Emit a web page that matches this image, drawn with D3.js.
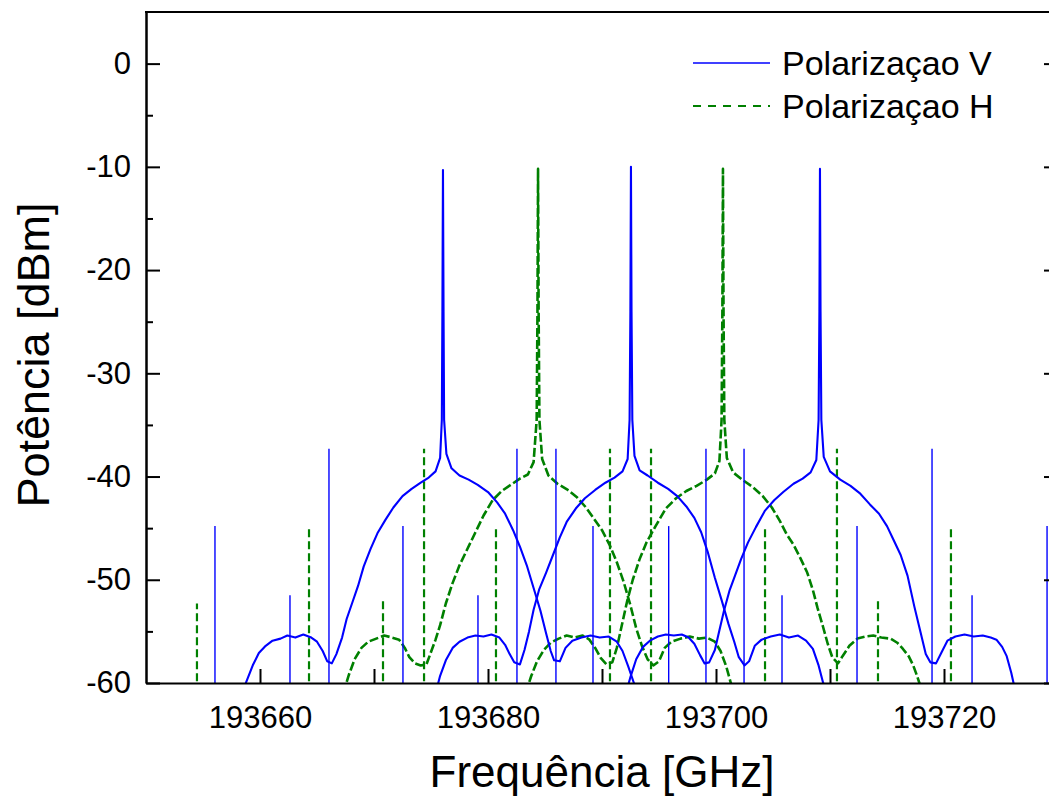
<!DOCTYPE html>
<html>
<head>
<meta charset="utf-8">
<script src="https://cdn.jsdelivr.net/npm/d3@7"></script>
<style>
body { margin: 0; background: #fff; }
text { font-family: "Liberation Sans", Arial, sans-serif; fill: #000; }
</style>
</head>
<body>
<script>
// polarizacao V: three channel sweeps
var traceV1 = [[193658.4,-61.0],[193658.9,-59.6],[193659.4,-58.2],[193659.9,-57.1],[193660.5,-56.4],[193661.1,-55.9],[193661.8,-55.7],[193662.4,-55.4],[193663.1,-55.6],[193663.8,-55.3],[193664.5,-55.6],[193665.0,-56.0],[193665.5,-56.9],[193665.9,-57.9],[193666.3,-58.1],[193666.7,-57.2],[193667.2,-55.6],[193667.6,-53.8],[193668.1,-52.2],[193668.6,-50.6],[193669.1,-48.7],[193669.7,-47.0],[193670.3,-45.5],[193671.0,-44.2],[193671.7,-43.0],[193672.5,-41.9],[193673.3,-41.2],[193674.1,-40.6],[193674.8,-40.1],[193675.4,-39.5],[193675.8,-38.2],[193675.95,-34.5],[193676.0,-24],[193676.05,-10.3],[193676.1,-24],[193676.15,-34.5],[193676.35,-37.8],[193676.8,-39.2],[193677.5,-39.9],[193678.3,-40.3],[193679.1,-40.8],[193680.0,-41.5],[193680.8,-42.5],[193681.5,-43.6],[193682.2,-45.2],[193682.8,-46.8],[193683.4,-48.6],[193684.0,-50.8],[193684.6,-53.0],[193685.1,-55.2],[193685.5,-56.9],[193685.8,-57.8],[193686.3,-57.9],[193686.8,-56.6],[193687.4,-55.9],[193688.2,-55.6],[193689.0,-55.4],[193689.8,-55.6],[193690.6,-55.5],[193691.3,-56.0],[193691.8,-56.9],[193692.3,-58.4],[193692.8,-60.0],[193693.1,-61.0]];
var traceV2 = [[193675.4,-61.0],[193675.8,-59.3],[193676.3,-57.8],[193676.9,-56.6],[193677.5,-56.0],[193678.2,-55.6],[193678.9,-55.4],[193679.6,-55.5],[193680.3,-55.3],[193681.0,-55.6],[193681.5,-56.3],[193681.9,-57.2],[193682.3,-58.0],[193682.8,-58.2],[193683.2,-56.8],[193683.6,-55.0],[193684.0,-52.9],[193684.5,-50.9],[193685.1,-49.3],[193685.7,-47.6],[193686.3,-45.9],[193686.9,-44.4],[193687.7,-43.1],[193688.5,-42.1],[193689.4,-41.3],[193690.3,-40.6],[193691.1,-40.1],[193691.8,-39.5],[193692.25,-38.3],[193692.42,-34.5],[193692.49,-24],[193692.54,-10.0],[193692.59,-24],[193692.66,-34.5],[193692.85,-38.0],[193693.3,-39.4],[193694.0,-39.9],[193694.9,-40.6],[193695.8,-41.2],[193696.6,-41.9],[193697.4,-42.9],[193698.1,-44.0],[193698.7,-45.4],[193699.3,-47.4],[193699.9,-49.8],[193700.5,-52.0],[193701.1,-54.3],[193701.6,-56.0],[193702.0,-57.5],[193702.5,-58.3],[193702.9,-57.9],[193703.4,-56.4],[193704.0,-55.8],[193704.8,-55.5],[193705.6,-55.3],[193706.4,-55.6],[193707.2,-55.4],[193707.9,-55.9],[193708.5,-56.7],[193709.0,-58.3],[193709.4,-60.0],[193709.8,-61.0]];
var traceV3 = [[193692.1,-61.0],[193692.5,-59.4],[193693.0,-57.7],[193693.6,-56.5],[193694.2,-55.9],[193694.9,-55.5],[193695.6,-55.3],[193696.3,-55.4],[193697.0,-55.3],[193697.6,-55.6],[193698.1,-56.2],[193698.6,-57.3],[193699.0,-58.1],[193699.4,-58.0],[193699.9,-56.8],[193700.3,-54.9],[193700.7,-53.0],[193701.2,-51.0],[193701.7,-49.5],[193702.2,-48.0],[193702.8,-46.4],[193703.5,-44.9],[193704.3,-43.3],[193705.1,-42.3],[193705.9,-41.5],[193706.8,-40.7],[193707.6,-40.2],[193708.3,-39.6],[193708.8,-38.4],[193709.0,-34.5],[193709.07,-24],[193709.12,-10.2],[193709.17,-24],[193709.24,-34.5],[193709.45,-38.1],[193710.0,-39.5],[193710.9,-40.3],[193711.8,-40.9],[193712.6,-41.6],[193713.5,-42.7],[193714.3,-43.6],[193715.0,-44.8],[193715.6,-46.2],[193716.2,-47.6],[193716.8,-49.6],[193717.4,-52.6],[193717.9,-54.9],[193718.4,-57.2],[193718.8,-58.0],[193719.3,-58.1],[193719.8,-57.0],[193720.3,-55.9],[193721.0,-55.5],[193721.8,-55.3],[193722.6,-55.5],[193723.4,-55.4],[193724.1,-55.6],[193724.6,-55.8],[193725.1,-56.5],[193725.5,-57.4],[193725.9,-59.0],[193726.3,-61.0]];
var spikesV = [[193656.05,-44.8],[193662.63,-51.5],[193666.05,-37.3],[193672.54,-44.8],[193679.12,-51.5],[193682.54,-37.3],[193685.96,-37.3],[193689.21,-44.8],[193695.85,-44.8],[193699.12,-37.3],[193702.46,-37.3],[193705.79,-51.5],[193712.37,-44.8],[193718.95,-37.3],[193722.46,-51.5],[193729.04,-44.8]];

// polarizacao H: two channel sweeps
var traceH1 = [[193667.3,-61.0],[193667.8,-59.2],[193668.3,-57.7],[193668.9,-56.6],[193669.5,-56.0],[193670.2,-55.7],[193670.9,-55.4],[193671.6,-55.6],[193672.2,-55.8],[193672.7,-56.6],[193673.1,-57.5],[193673.6,-58.1],[193674.1,-58.3],[193674.6,-58.2],[193675.0,-57.0],[193675.4,-55.8],[193675.8,-54.4],[193676.3,-52.3],[193676.9,-50.3],[193677.5,-48.6],[193678.2,-47.0],[193678.9,-45.4],[193679.6,-43.8],[193680.4,-42.3],[193681.2,-41.4],[193682.0,-40.8],[193682.8,-40.2],[193683.5,-39.8],[193684.0,-38.6],[193684.27,-34.5],[193684.34,-24],[193684.39,-10.2],[193684.44,-24],[193684.51,-34.5],[193684.75,-38.3],[193685.3,-39.9],[193686.1,-40.7],[193687.0,-41.3],[193687.8,-42.0],[193688.6,-43.0],[193689.3,-44.1],[193690.0,-45.2],[193690.7,-46.7],[193691.3,-48.3],[193691.9,-50.2],[193692.5,-52.5],[193693.0,-54.7],[193693.5,-56.4],[193694.0,-57.7],[193694.5,-58.3],[193695.0,-57.9],[193695.5,-56.6],[193696.1,-56.0],[193696.9,-55.7],[193697.7,-55.5],[193698.5,-55.7],[193699.2,-55.6],[193699.9,-56.0],[193700.4,-56.9],[193700.9,-58.4],[193701.3,-60.0],[193701.6,-61.0]];
var traceH2 = [[193683.3,-61.0],[193683.8,-59.3],[193684.3,-57.9],[193684.9,-56.8],[193685.5,-56.1],[193686.2,-55.7],[193686.9,-55.4],[193687.6,-55.6],[193688.3,-55.4],[193688.9,-55.8],[193689.4,-56.6],[193689.9,-57.6],[193690.4,-58.2],[193690.9,-58.0],[193691.3,-56.6],[193691.7,-54.6],[193692.2,-52.1],[193692.7,-50.0],[193693.3,-48.0],[193693.9,-46.4],[193694.7,-44.8],[193695.6,-43.1],[193696.5,-42.1],[193697.4,-41.4],[193698.3,-40.9],[193699.2,-40.3],[193699.9,-39.7],[193700.3,-38.5],[193700.49,-34.5],[193700.56,-24],[193700.61,-10.2],[193700.66,-24],[193700.73,-34.5],[193700.95,-38.2],[193701.5,-39.6],[193702.3,-40.3],[193703.2,-41.0],[193704.1,-41.9],[193704.9,-43.0],[193705.6,-44.3],[193706.2,-45.6],[193706.8,-46.6],[193707.4,-47.9],[193708.0,-49.3],[193708.5,-51.0],[193708.9,-52.7],[193709.4,-54.6],[193709.8,-56.2],[193710.2,-57.5],[193710.7,-58.1],[193711.1,-57.4],[193711.7,-56.4],[193712.4,-55.7],[193713.1,-55.5],[193713.8,-55.4],[193714.5,-55.6],[193715.3,-55.7],[193715.9,-56.1],[193716.4,-56.7],[193716.9,-57.4],[193717.3,-58.3],[193717.6,-59.2],[193717.9,-60.2],[193718.2,-61.0]];
var spikesH = [[193654.47,-52.3],[193664.30,-44.8],[193670.79,-51.8],[193674.39,-37.3],[193680.70,-44.8],[193690.70,-37.3],[193694.30,-37.3],[193704.30,-44.8],[193710.61,-37.3],[193714.21,-51.8],[193720.61,-44.8]];

var xTicks = [193660, 193670, 193680, 193690, 193700, 193710, 193720];
var xLabels = [193660, 193680, 193700, 193720];
var yMajor = [0, -10, -20, -30, -40, -50, -60];
var yMinor = [-5, -15, -25, -35, -45, -55];
var legendNames = ["Polarizaçao V", "Polarizaçao H"];

var w = 1049, h = 796;
var pLeft = 146, pRight = 1058, pTop = 12, pBottom = 683;
var blue = "#0000ff", green = "#008000";

var svg = d3.select("body").append("svg")
	.attr("width", w)
	.attr("height", h);

var x = d3.scaleLinear().domain([193650, 193730]).range([pLeft, pRight]);
var y = d3.scaleLinear().domain([-60, 5]).range([pBottom, pTop]);

svg.append("clipPath").attr("id", "plotclip")
	.append("rect")
	.attr("x", pLeft).attr("y", pTop)
	.attr("width", pRight - pLeft).attr("height", pBottom - pTop);

var plot = svg.append("g").attr("clip-path", "url(#plotclip)");

var line = d3.line()
	.x(function(d){ return x(d[0]); })
	.y(function(d){ return y(d[1]); });

function drawSpikes(data, color, dash){
	plot.selectAll(null)
		.data(data)
		.enter().append("line")
		.attr("x1", function(d){ return x(d[0]); })
		.attr("x2", function(d){ return x(d[0]); })
		.attr("y1", y(-61))
		.attr("y2", function(d){ return y(d[1]); })
		.style("stroke", color)
		.style("stroke-width", dash ? 2.2 : 1.4)
		.style("stroke-dasharray", dash ? "8,4" : null);
};

function drawTrace(data, color, dash){
	plot.append("path")
		.datum(data)
		.attr("d", line)
		.style("fill", "none")
		.style("stroke", color)
		.style("stroke-width", dash ? 2.6 : 2.1)
		.style("stroke-linejoin", "round")
		.style("stroke-dasharray", dash ? "9,3" : null);
};

drawSpikes(spikesH, green, true);
drawTrace(traceH1, green, true);
drawTrace(traceH2, green, true);
drawSpikes(spikesV, blue, false);
drawTrace(traceV1, blue, false);
drawTrace(traceV2, blue, false);
drawTrace(traceV3, blue, false);

// axes
var xAxis = d3.axisBottom(x)
	.tickValues(xTicks)
	.tickSizeInner(-14)
	.tickSizeOuter(0)
	.tickPadding(23)
	.tickFormat(function(d){ return xLabels.indexOf(d) >= 0 ? d : ""; });

var yAxis = d3.axisLeft(y)
	.tickValues(yMajor)
	.tickSizeInner(-14)
	.tickSizeOuter(0)
	.tickPadding(15)
	.tickFormat(function(d){ return String(d); });

var yAxisMinor = d3.axisLeft(y)
	.tickValues(yMinor)
	.tickSizeInner(-7)
	.tickSizeOuter(0)
	.tickFormat("");

var yRight = d3.axisRight(y)
	.tickValues(yMajor)
	.tickSizeInner(-14)
	.tickSizeOuter(0)
	.tickFormat("");

svg.append("g").attr("transform", "translate(0," + pBottom + ")").call(xAxis);
svg.append("g").attr("transform", "translate(" + pLeft + ",0)").call(yAxis);
svg.append("g").attr("transform", "translate(" + pLeft + ",0)").call(yAxisMinor);
svg.append("g").attr("transform", "translate(" + pRight + ",0)").call(yRight);

svg.selectAll(".domain, .tick line")
	.style("stroke", "#000")
	.style("stroke-width", 2);
svg.selectAll(".tick text")
	.style("font-size", "31px")
	.style("font-family", "'Liberation Sans', Arial, sans-serif");

svg.append("line")
	.attr("x1", pLeft - 1).attr("x2", pRight)
	.attr("y1", pTop).attr("y2", pTop)
	.style("stroke", "#000").style("stroke-width", 2);

svg.append("text")
	.attr("x", (pLeft + pRight) / 2)
	.attr("y", 787)
	.attr("text-anchor", "middle")
	.style("font-size", "44px")
	.text("Frequência [GHz]");

svg.append("text")
	.attr("transform", "translate(49,355) rotate(-90)")
	.attr("text-anchor", "middle")
	.style("font-size", "45px")
	.text("Potência [dBm]");

// legend
var legend = svg.selectAll(".legend")
	.data(legendNames)
	.enter().append("g")
	.attr("class", "legend")
	.attr("transform", function(d,i){ return "translate(693," + (63 + i*43) + ")"; });

legend.append("line")
	.attr("x1", 0).attr("x2", 77)
	.attr("y1", 0).attr("y2", 0)
	.style("stroke", function(d,i){ return i === 0 ? blue : green; })
	.style("stroke-width", function(d,i){ return i === 0 ? 1.4 : 2.2; })
	.style("stroke-dasharray", function(d,i){ return i === 0 ? null : "8,7"; });

legend.append("text")
	.attr("x", 89)
	.attr("y", 12)
	.style("font-size", "34px")
	.text(function(d){ return d; });
</script>
</body>
</html>
